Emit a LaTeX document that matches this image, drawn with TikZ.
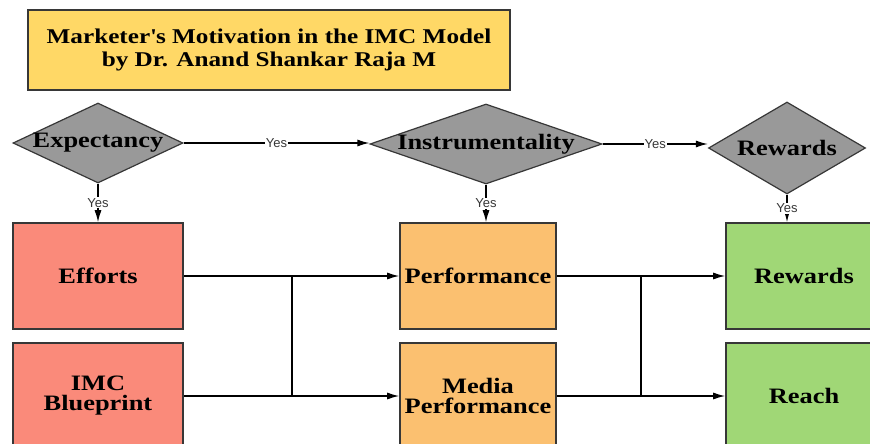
\documentclass[tikz,border=0pt]{standalone}
\usepackage{fontspec}
\setmainfont{Liberation Serif}[FakeStretch=1.2]
\setsansfont{Liberation Sans}
\usetikzlibrary{calc}
\usetikzlibrary{arrows.meta}
\usetikzlibrary{shapes.geometric}
\definecolor{headYellow}{RGB}{255,216,102}
\definecolor{askGray}{RGB}{153,153,153}
\definecolor{effortRed}{RGB}{250,138,122}
\definecolor{perfOrange}{RGB}{251,192,112}
\definecolor{rewardGreen}{RGB}{160,215,118}
\definecolor{edgeGray}{RGB}{55,55,55}
\tikzset{
  heading/.style = {draw=edgeGray, line width=1.6pt, fill=headYellow, minimum width=482pt, minimum height=80pt, align=center, font=\bfseries\fontsize{21}{23}\selectfont},
  decision/.style = {diamond, draw=edgeGray, line width=1.2pt, fill=askGray, inner sep=0pt, font=\bfseries\fontsize{22}{24}\selectfont},
  block/.style = {rectangle, draw=edgeGray, line width=1.6pt, fill=#1, minimum height=106pt, align=center, font=\bfseries\fontsize{22}{20}\selectfont},
  flow/.style = {color=#1, line width=1.3pt, -{Latex[length=12pt,width=7pt]}},
  guide/.style = {color=#1, line width=1.3pt},
  yes/.style = {fill=white, inner sep=1pt, text=edgeGray, font=\sffamily\fontsize{13}{13}\selectfont}
}

\begin{document}
\begin{tikzpicture}[x=1pt, y=-1pt]

    % Frame
    \useasboundingbox (0,0) rectangle (870,444);
    \clip (0,0) rectangle (870,444);

    % Title
    \node[heading] (head) at (269,50) {Marketer\textquotesingle s Motivation in the IMC Model\\by Dr. Anand Shankar Raja M};

    % Decisions
    \node[decision, minimum width=170pt, minimum height=80pt] (exp) at (98,143) {\makebox[0pt]{Expectancy}};
    \node[decision, minimum width=232pt, minimum height=80pt] (inst) at (486,144) {\makebox[0pt]{Instrumentality}};
    \node[decision, minimum width=157pt, minimum height=92pt] (rew) at (787,148) {\makebox[0pt]{Rewards}};

    % Blocks
    \node[block={effortRed}, minimum width=170pt] (eff) at (98,276) {Efforts};
    \node[block={effortRed}, minimum width=170pt] (imc) at (98,396) {IMC\\Blueprint};
    \node[block={perfOrange}, minimum width=156pt] (perf) at (478,276) {Performance};
    \node[block={perfOrange}, minimum width=156pt] (media) at (478,396) {Media\\Performance};
    \node[block={rewardGreen}, minimum width=156pt] (rwd) at (804,276) {Rewards};
    \node[block={rewardGreen}, minimum width=156pt] (reach) at (804,396) {Reach};

    % Junctions
    \coordinate (j1) at (292,0);
    \coordinate (j2) at (641,0);

    % Yes paths
    \draw[flow={black}] (exp.east) -- node[yes] {Yes} (exp.east -| inst.west);
    \draw[flow={black}] (inst.east) -- node[yes] {Yes} (inst.east -| rew.west);
    \draw[flow={black}] (exp.south) -- node[yes] {Yes} (eff.north);
    \draw[flow={black}] (inst.south) -- node[yes] {Yes} (inst.south |- perf.north);
    \draw[flow={black}] (rew.south) -- node[yes] {Yes} (rew.south |- rwd.north);

    % Links
    \draw[flow={black}] (eff) -- (perf);
    \draw[flow={black}] (imc) -- (media);
    \draw[guide={black}] (eff.east -| j1) -- (imc.east -| j1);
    \draw[flow={black}] (perf) -- (rwd);
    \draw[flow={black}] (media) -- (reach);
    \draw[guide={black}] (perf.east -| j2) -- (media.east -| j2);

\end{tikzpicture}
\end{document}
